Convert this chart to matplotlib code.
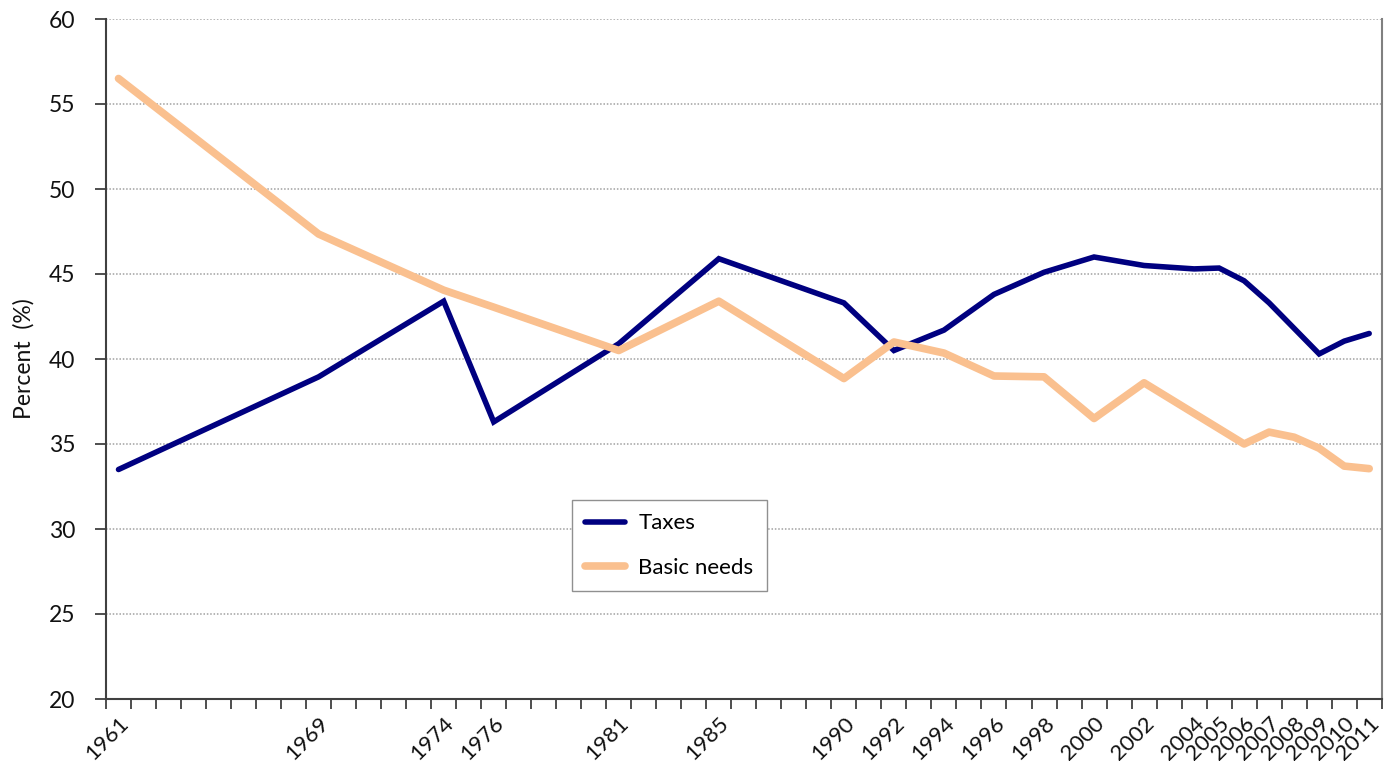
"""Taxes vs basic needs share, 1961-2011"""

import matplotlib
matplotlib.use("Agg")
import matplotlib.pyplot as plt
from matplotlib.ticker import FixedLocator, MultipleLocator

plt.rcParams["font.family"] = ["Lato", "DejaVu Sans"]

# data
years = [1961, 1969, 1974, 1976, 1981, 1985, 1990, 1992, 1994, 1996, 1998,
         2000, 2002, 2004, 2005, 2006, 2007, 2008, 2009, 2010, 2011]
taxes = [33.5, 38.95, 43.4, 36.3, 40.9, 45.9, 43.3, 40.5, 41.7, 43.8, 45.1,
         46.0, 45.5, 45.3, 45.35, 44.6, 43.3, 41.8, 40.3, 41.05, 41.5]
basic_needs = [56.5, 47.35, 44.05, 43.05, 40.5, 43.4, 38.85, 41.0, 40.35, 39.0, 38.95,
               36.5, 38.6, 36.8, 35.9, 35.0, 35.7, 35.4, 34.75, 33.7, 33.55]
y_ticks = [20, 25, 30, 35, 40, 45, 50, 55, 60]

fig = plt.figure(figsize=(13.86, 7.61), dpi=100)
ax = fig.add_axes([106 / 1386, 62 / 761, 1275.7 / 1386, 680 / 761])

ax.plot(years, taxes, color="#000080", lw=4.0, label="Taxes",
        solid_capstyle="round", solid_joinstyle="miter", zorder=3)
ax.plot(years, basic_needs, color="#FAC08F", lw=5.5, label="Basic needs",
        solid_capstyle="round", solid_joinstyle="round", zorder=4)

ax.set_xlim(1960.5, 2011.5)
ax.set_ylim(20, 60)

# year labels only where there is data, tick marks between every year
ax.xaxis.set_major_locator(FixedLocator(years))
ax.set_xticklabels([str(y) for y in years])
ax.xaxis.set_minor_locator(MultipleLocator(1, offset=0.5))
ax.tick_params(axis="x", which="major", length=0, pad=10, labelsize=16,
               labelcolor="#111111")
ax.tick_params(axis="x", which="minor", length=7, width=1.3, color="#404040",
               direction="out")
plt.setp(ax.get_xticklabels(), rotation=45, ha="right", rotation_mode="anchor")

ax.set_yticks(y_ticks)
ax.tick_params(axis="y", length=8, width=1.3, color="#404040", pad=14,
               labelsize=16.5, labelcolor="#111111")
ax.yaxis.grid(True, linestyle=(0, (1, 1.2)), color="#A0A0A0", linewidth=1.1)
ax.set_axisbelow(True)

ax.spines["top"].set_visible(False)
ax.spines["left"].set_color("#404040")
ax.spines["left"].set_linewidth(1.5)
ax.spines["bottom"].set_color("#404040")
ax.spines["bottom"].set_linewidth(1.5)
ax.spines["right"].set_color("#808080")
ax.spines["right"].set_linewidth(1.5)

ax.set_ylabel("Percent  (%)", fontsize=16.5, color="#111111", labelpad=10)

leg = ax.legend(loc="upper left", bbox_to_anchor=(0.365, 0.2926),
                frameon=True, fancybox=False, framealpha=1, edgecolor="#909090",
                fontsize=16, handlelength=1.8, handletextpad=0.6,
                labelspacing=1.1, borderpad=0.6, borderaxespad=0)
leg.get_frame().set_linewidth(1.0)

fig.savefig("out.png", dpi=100)
